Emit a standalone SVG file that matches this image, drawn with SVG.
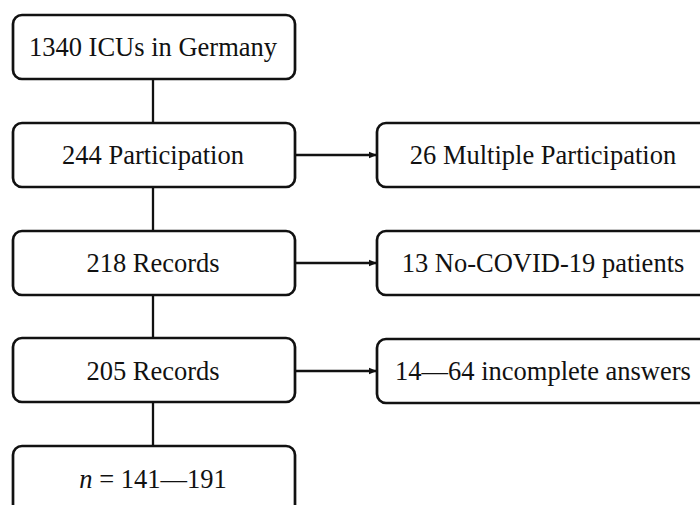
<svg xmlns="http://www.w3.org/2000/svg" width="700" height="505" viewBox="0 0 700 505">
<style>
.box{fill:#fff;stroke:#111;stroke-width:2.7}
.t{font-family:"Liberation Serif","Times New Roman",serif;font-size:26.5px;fill:#111;text-anchor:middle}
.c{stroke:#111;stroke-width:2.3;fill:none}
</style>
<defs>
<marker id="ah" viewBox="0 0 10 10" refX="10" refY="5" markerWidth="9" markerHeight="8" orient="auto" markerUnits="userSpaceOnUse">
<path d="M0,1 L10,5 L0,9 z" fill="#111"/>
</marker>
</defs>
<g id="connectors">
<line class="c" x1="153" y1="79" x2="153" y2="122"/>
<line class="c" x1="153" y1="187" x2="153" y2="230"/>
<line class="c" x1="153" y1="295" x2="153" y2="338"/>
<line class="c" x1="153" y1="402" x2="153" y2="446"/>
<line class="c" x1="295" y1="155" x2="377" y2="155" marker-end="url(#ah)"/>
<line class="c" x1="295" y1="263" x2="377" y2="263" marker-end="url(#ah)"/>
<line class="c" x1="295" y1="371" x2="377" y2="371" marker-end="url(#ah)"/>
</g>
<g id="n1"><rect class="box" x="13" y="15" width="282" height="64" rx="9"/><text class="t" x="153" y="56">1340 ICUs in Germany</text></g>
<g id="n2"><rect class="box" x="13" y="123" width="282" height="64" rx="9"/><text class="t" x="153" y="164">244 Participation</text></g>
<g id="n3"><rect class="box" x="13" y="231" width="282" height="64" rx="9"/><text class="t" x="153" y="272">218 Records</text></g>
<g id="n4"><rect class="box" x="13" y="338" width="282" height="64" rx="9"/><text class="t" x="153" y="380">205 Records</text></g>
<g id="n5"><rect class="box" x="13" y="446" width="282" height="70" rx="9"/><text class="t" x="153" y="488"><tspan font-style="italic">n</tspan> = 141—191</text></g>
<g id="r1"><rect class="box" x="377" y="123" width="333" height="64" rx="9"/><text class="t" x="543" y="164">26 Multiple Participation</text></g>
<g id="r2"><rect class="box" x="377" y="231" width="333" height="64" rx="9"/><text class="t" x="543" y="272">13 No-COVID-19 patients</text></g>
<g id="r3"><rect class="box" x="377" y="339" width="333" height="64" rx="9"/><text class="t" x="543" y="380">14—64 incomplete answers</text></g>
</svg>
